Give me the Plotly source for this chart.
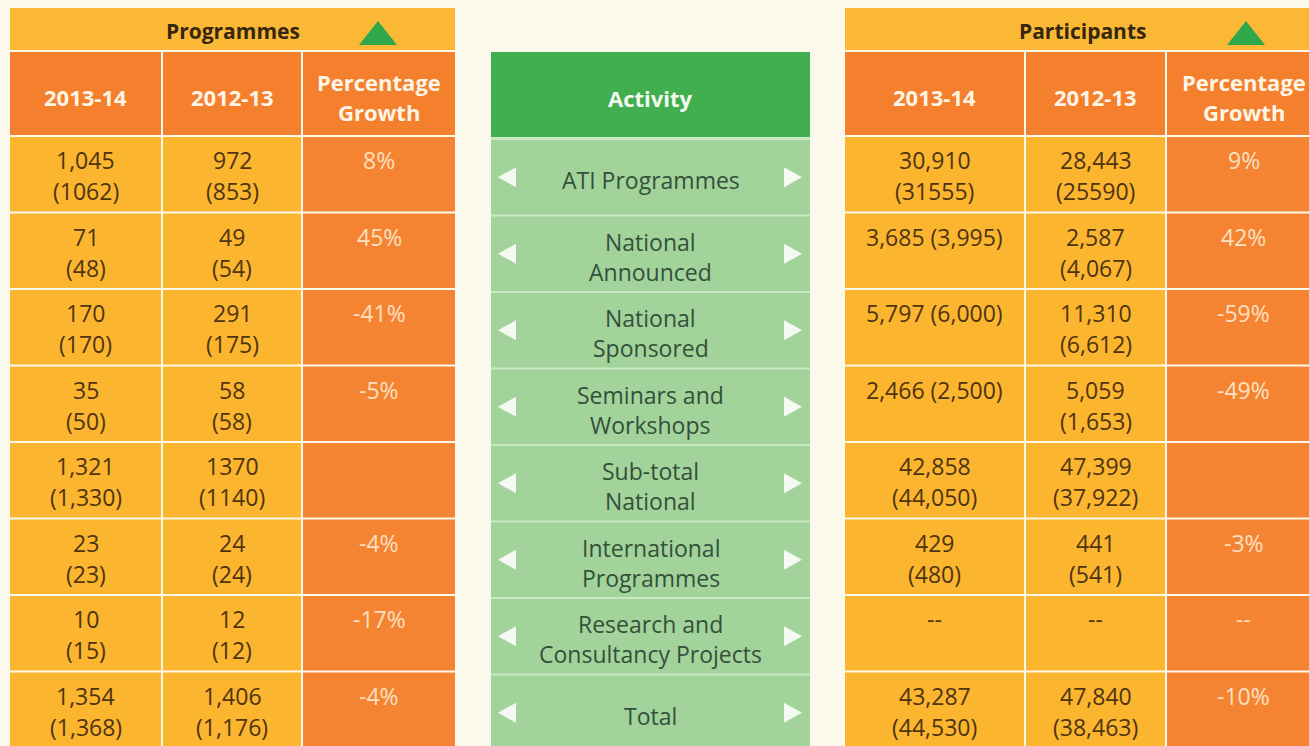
import plotly.graph_objects as go

# ---------------- data ----------------
activities = ["ATI Programmes", "National<br>Announced", "National<br>Sponsored",
              "Seminars and<br>Workshops", "Sub-total<br>National",
              "International<br>Programmes", "Research and<br>Consultancy Projects", "Total"]
year_headers = ["2013-14", "2012-13", "Percentage<br>Growth"]

prog_1314 = ["1,045", "71", "170", "35", "1,321", "23", "10", "1,354"]
prog_1314_target = ["1062", "48", "170", "50", "1,330", "23", "15", "1,368"]
prog_1213 = ["972", "49", "291", "58", "1370", "24", "12", "1,406"]
prog_1213_target = ["853", "54", "175", "58", "1140", "24", "12", "1,176"]
prog_growth = ["8%", "45%", "-41%", "-5%", "", "-4%", "-17%", "-4%"]

part_1314 = ["30,910", "3,685", "5,797", "2,466", "42,858", "429", "--", "43,287"]
part_1314_target = ["31555", "3,995", "6,000", "2,500", "44,050", "480", "", "44,530"]
part_1213 = ["28,443", "2,587", "11,310", "5,059", "47,399", "441", "--", "47,840"]
part_1213_target = ["25590", "4,067", "6,612", "1,653", "37,922", "541", "", "38,463"]
part_growth = ["9%", "42%", "-59%", "-49%", "", "-3%", "--", "-10%"]
part_1314_inline = [False, True, True, True, False, False, False, False]

# ---------------- style / layout ----------------
W, H = 1309, 746
BG = "#FBF9EC"
YELLOW = "#FBB52F"
TITLE_YELLOW = "#FBB834"
ORANGE = "#F58432"
HEAD_ORANGE = "#F4802E"
GREEN = "#41AE4F"
LGREEN = "#A2D39B"
LGREEN_LINE = "#CBE8C5"
DARK = "#4E3410"
PCT = "#FDE0C2"
HEADTXT = "#FFF5E6"
MIDTXT = "#34503A"
FONT = "Open Sans"
FS = 23
HFS = 22

TITLE_TOP, TITLE_BOT = 8, 50
HEAD_TOP, HEAD_BOT = 52, 135
ROW_TOP0, ROW_PITCH, ROW_H = 137, 76.5, 74.5
left_cols = [(10, 161), (163, 301), (303, 455)]
right_cols = [(845, 1024), (1026, 1165), (1167, 1320)]
mid_col = (491, 810)
MID_OFF = 3

shapes, annotations = [], []


def rect(x0, x1, y0, y1, color):
    shapes.append(dict(type="rect", xref="x", yref="y", x0=x0, x1=x1, y0=y0, y1=y1,
                       fillcolor=color, line=dict(width=0), layer="below"))


def text(x, y, s, size=FS, color=DARK, bold=False, yanchor="middle"):
    if bold:
        s = "<b>" + s + "</b>"
    annotations.append(dict(x=x, y=y, xref="x", yref="y", text=s, showarrow=False,
                            xanchor="center", yanchor=yanchor,
                            font=dict(family=FONT, size=size, color=color)))


def tri(cx, cy, w, h, direction, color):
    if direction == "up":
        p = f"M{cx - w/2},{cy + h/2} L{cx + w/2},{cy + h/2} L{cx},{cy - h/2} Z"
    elif direction == "left":
        p = f"M{cx + w/2},{cy - h/2} L{cx + w/2},{cy + h/2} L{cx - w/2},{cy} Z"
    else:
        p = f"M{cx - w/2},{cy - h/2} L{cx - w/2},{cy + h/2} L{cx + w/2},{cy} Z"
    shapes.append(dict(type="path", xref="x", yref="y", path=p, fillcolor=color,
                       line=dict(width=0), layer="above"))


def row_bounds(i, off=0):
    t = ROW_TOP0 + i * ROW_PITCH + off
    return t, t + ROW_H


def side_table(cols, title, title_cx, tri_cx, c1, c1b, c2, c2b, growth, inline=None):
    rect(cols[0][0], cols[2][1], TITLE_TOP, TITLE_BOT, TITLE_YELLOW)
    text(title_cx, (TITLE_TOP + TITLE_BOT) / 2 + 2, title, size=21, color="#35270D", bold=True)
    tri(tri_cx, (TITLE_TOP + TITLE_BOT) / 2 + 4, 38, 24, "up", "#2EA84A")
    for j, (x0, x1) in enumerate(cols):
        rect(x0, x1, HEAD_TOP, HEAD_BOT, HEAD_ORANGE)
        lines = year_headers[j].split("<br>")
        cy = (HEAD_TOP + HEAD_BOT) / 2
        if len(lines) == 1:
            text((x0 + x1) / 2, cy + 3, lines[0], size=HFS, color=HEADTXT, bold=True)
        else:
            text((x0 + x1) / 2, cy - 12, lines[0], size=HFS, color=HEADTXT, bold=True)
            text((x0 + x1) / 2, cy + 18, lines[1], size=HFS, color=HEADTXT, bold=True)
    for i in range(len(activities)):
        t, b = row_bounds(i)
        cy = (t + b) / 2
        for j, (main, tgt) in enumerate([(c1, c1b), (c2, c2b)]):
            x0, x1 = cols[j]
            cx = (x0 + x1) / 2
            rect(x0, x1, t, b, YELLOW)
            if j == 0 and inline is not None and inline[i]:
                text(cx, cy - 14, f"{main[i]} ({tgt[i]})")
            elif tgt[i]:
                text(cx, cy - 14, main[i])
                text(cx, cy + 17, f"({tgt[i]})")
            else:
                text(cx, cy - 14, main[i])
        x0, x1 = cols[2]
        rect(x0, x1, t, b, ORANGE)
        if growth[i]:
            text((x0 + x1) / 2, cy - 14, growth[i], color=PCT)


side_table(left_cols, "Programmes", 233, 378,
           prog_1314, prog_1314_target, prog_1213, prog_1213_target, prog_growth)
side_table(right_cols, "Participants", 1082, 1246,
           part_1314, part_1314_target, part_1213, part_1213_target, part_growth,
           inline=part_1314_inline)

# middle column
mx0, mx1 = mid_col
rect(mx0, mx1, HEAD_TOP, HEAD_BOT + 2, GREEN)
text((mx0 + mx1) / 2, (HEAD_TOP + HEAD_BOT) / 2 + 4, "Activity", size=HFS, color="#F3FAEF", bold=True)
rect(mx0, mx1, HEAD_BOT + 2, H + 5, LGREEN_LINE)
for i, act in enumerate(activities):
    t, b = row_bounds(i, MID_OFF)
    cy = (t + b) / 2
    rect(mx0, mx1, t, b, LGREEN)
    lines = act.split("<br>")
    if len(lines) == 1:
        text((mx0 + mx1) / 2, cy + 3, lines[0], color=MIDTXT)
    else:
        text((mx0 + mx1) / 2, cy - 12, lines[0], color=MIDTXT)
        text((mx0 + mx1) / 2, cy + 18, lines[1], color=MIDTXT)
    tri(mx0 + 16, cy, 18, 20, "left", "#F4F9F1")
    tri(mx1 - 17, cy, 18, 20, "right", "#F4F9F1")

fig = go.Figure()
fig.add_trace(go.Scatter(x=[0, W], y=[0, H], mode="markers", marker=dict(opacity=0),
                         hoverinfo="skip", showlegend=False))
fig.update_layout(
    width=W, height=H, margin=dict(l=0, r=0, t=0, b=0),
    paper_bgcolor=BG, plot_bgcolor=BG,
    xaxis=dict(range=[0, W], visible=False, fixedrange=True),
    yaxis=dict(range=[H, 0], visible=False, fixedrange=True),
    shapes=shapes, annotations=annotations, showlegend=False,
)
fig.write_html("out.html", config={"displayModeBar": False},
               post_script="document.body.style.margin='0';document.body.style.background='" + BG + "';")
